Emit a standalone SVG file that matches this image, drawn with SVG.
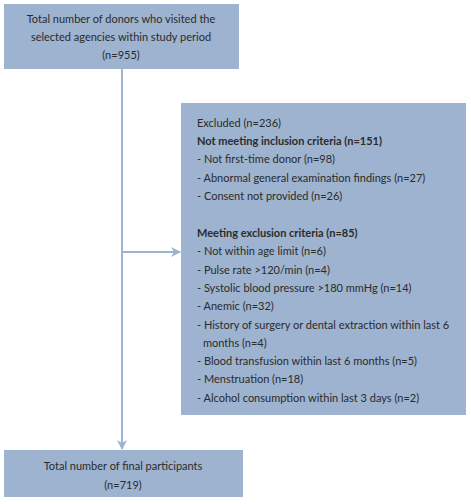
<svg xmlns="http://www.w3.org/2000/svg" width="471" height="504" viewBox="0 0 471 504">
<defs>
<style>
.box{fill:#9db3cf;}
.t{font-family:Lato,"Open Sans",sans-serif;font-size:11px;fill:#2b2b2b;}
.c{text-anchor:middle;}
.b{font-weight:bold;}
.ln{stroke:#9db3cf;stroke-width:2;fill:none;}
</style>
<marker id="ah" markerWidth="10" markerHeight="10" refX="9" refY="5" orient="auto" markerUnits="userSpaceOnUse">
<path d="M0,0 L10,5 L0,10 L3,5 Z" fill="#9db3cf"/>
</marker>
</defs>
<rect width="471" height="504" fill="#ffffff"/>
<g id="connectors">
<line class="ln" x1="122" y1="69" x2="122" y2="449" marker-end="url(#ah)"/>
<line class="ln" x1="122" y1="252" x2="180" y2="252" marker-end="url(#ah)"/>
</g>
<g id="start">
<rect class="box" x="4" y="4" width="235" height="65"/>
<text class="t c" x="121" y="23">Total number of donors who visited the</text>
<text class="t c" x="121" y="41">selected agencies within study period</text>
<text class="t c" x="121" y="59">(n=955)</text>
</g>
<g id="excluded">
<rect class="box" x="181" y="103" width="285" height="312"/>
<text class="t" x="197" y="127">Excluded (n=236)</text>
<text class="t b" x="197" y="145">Not meeting inclusion criteria (n=151)</text>
<text class="t" x="197" y="163">- Not first-time donor (n=98)</text>
<text class="t" x="197" y="182">- Abnormal general examination findings (n=27)</text>
<text class="t" x="197" y="200">- Consent not provided (n=26)</text>
<text class="t b" x="197" y="237">Meeting exclusion criteria (n=85)</text>
<text class="t" x="197" y="255">- Not within age limit (n=6)</text>
<text class="t" x="197" y="274">- Pulse rate &gt;120/min (n=4)</text>
<text class="t" x="197" y="292">- Systolic blood pressure &gt;180 mmHg (n=14)</text>
<text class="t" x="197" y="310">- Anemic (n=32)</text>
<text class="t" x="197" y="329">- History of surgery or dental extraction within last 6</text>
<text class="t" x="203" y="347">months (n=4)</text>
<text class="t" x="197" y="365">- Blood transfusion within last 6 months (n=5)</text>
<text class="t" x="197" y="383">- Menstruation (n=18)</text>
<text class="t" x="197" y="402">- Alcohol consumption within last 3 days (n=2)</text>
</g>
<g id="final">
<rect class="box" x="4" y="450" width="239" height="47"/>
<text class="t c" x="123" y="470">Total number of final participants</text>
<text class="t c" x="123" y="489">(n=719)</text>
</g>
</svg>
